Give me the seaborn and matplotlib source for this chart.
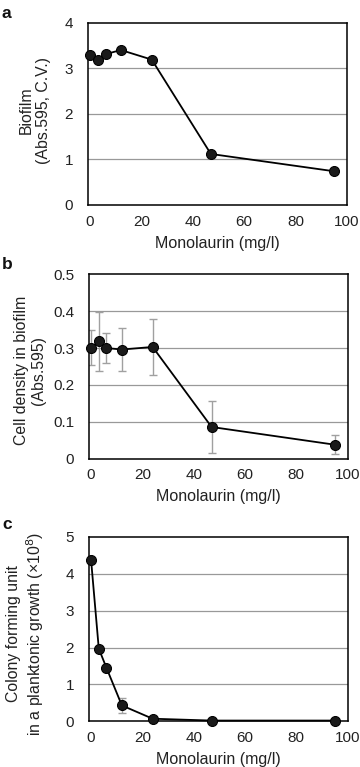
import numpy as np
import pandas as pd
import seaborn as sns
import matplotlib
matplotlib.use('Agg')
import matplotlib.pyplot as plt

# monolaurin concentrations (mg/l)
conc = [0, 3, 6, 12, 24, 47, 95]

# a: biofilm (Abs.595, C.V.)
biofilm = [3.30, 3.18, 3.31, 3.40, 3.19, 1.12, 0.74]

# b: cell density in biofilm (Abs.595) with error
density = [0.301, 0.318, 0.300, 0.296, 0.303, 0.086, 0.038]
density_err = [0.048, 0.080, 0.040, 0.058, 0.075, 0.070, 0.025]

# c: colony forming unit (x10^8) with error
cfu = [4.37, 1.97, 1.45, 0.43, 0.07, 0.02, 0.02]
cfu_err = [0.0, 0.0, 0.0, 0.20, 0.04, 0.0, 0.0]

sns.set_theme(style='white')
plt.rcParams['font.family'] = ['Liberation Sans', 'DejaVu Sans']

W, H = 360, 767
fig = plt.figure(figsize=(W / 100, H / 100), dpi=100)

def rect(left, top, right, bottom):
    # pixel box -> figure fraction
    return [left / W, 1 - bottom / H, (right - left) / W, (bottom - top) / H]

panels = [
    # letter, pixel box, values, error, ylim, yticks, ylabel, label pos, letter baseline
    ('a', rect(88.3, 22.7, 347.0, 205.0), biofilm, None, (0, 4), [0, 1, 2, 3, 4],
     'Biofilm\n(Abs.595, C.V.)', (-0.145, 0.52), 18),
    ('b', rect(89.3, 274.3, 347.5, 458.7), density, density_err, (0, 0.5),
     [0, 0.1, 0.2, 0.3, 0.4, 0.5], 'Cell density in biofilm\n(Abs.595)', (-0.168, 0.48), 269),
    ('c', rect(89.3, 537.0, 347.5, 721.3), cfu, cfu_err, (0, 5), [0, 1, 2, 3, 4, 5],
     'Colony forming unit\nin a planktonic growth (×10$^8$)', (-0.168, 0.474), 529),
]

for letter, box, vals, err, ylim, yticks, ylabel, lab_pos, base_y in panels:
    ax = fig.add_axes(box)
    df = pd.DataFrame({'conc': conc, 'val': vals})

    # horizontal grid lines
    for t in yticks[1:-1]:
        ax.axhline(t, color='#999999', lw=0.9, zorder=0)

    if err is not None:
        ax.errorbar(conc, vals, yerr=err, fmt='none', ecolor='#a0a0a0',
                    elinewidth=1.0, capsize=3, capthick=1.0, zorder=1)

    sns.lineplot(data=df, x='conc', y='val', ax=ax, color='black', lw=1.3,
                 marker='o', markersize=7.2, markeredgecolor='black',
                 markerfacecolor='#1a1a1a', zorder=3, clip_on=False)

    ax.set_xlim(-0.7, 100)
    ax.set_ylim(*ylim)
    ax.set_xticks([0, 20, 40, 60, 80, 100])
    ax.set_yticks(yticks)
    if letter == 'b':
        ax.set_yticklabels(['0', '0.1', '0.2', '0.3', '0.4', '0.5'])
    ax.tick_params(axis='x', direction='in', length=3, width=0.8, color='#555555',
                   labelsize=11, pad=7, labelcolor='#222222')
    ax.tick_params(axis='y', length=0, labelsize=11, pad=11, labelcolor='#222222')
    ax.set_xlabel('Monolaurin (mg/l)', fontsize=11.5, color='#222222', labelpad=5)
    ax.set_ylabel(ylabel, fontsize=11.4, color='#222222', linespacing=1.2)
    ax.yaxis.set_label_coords(*lab_pos)
    for s in ax.spines.values():
        s.set_color('black')
        s.set_linewidth(1.1)
    ax.grid(False)

    fig.text(2 / W, 1 - base_y / H, letter, fontsize=12.5, fontweight='bold',
             va='baseline', color='#111111')

fig.savefig('out.png', dpi=100)
